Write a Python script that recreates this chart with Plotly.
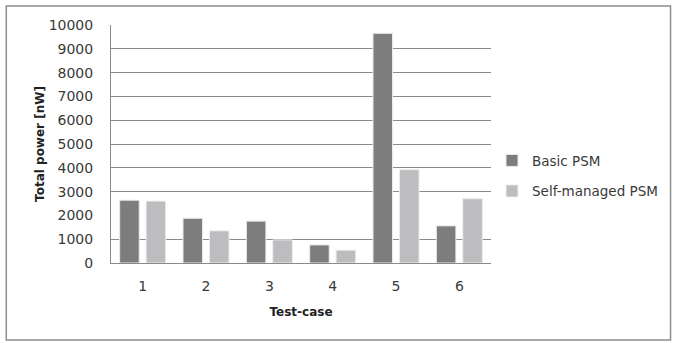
import plotly.graph_objects as go

# Test cases and measured total power for each power-saving mode
test_cases = ["1", "2", "3", "4", "5", "6"]
basic_psm = [2640, 1880, 1760, 760, 9650, 1560]
self_managed_psm = [2600, 1350, 970, 540, 3920, 2700]

y_ticks = [0, 1000, 2000, 3000, 4000, 5000, 6000, 7000, 8000, 9000, 10000]
y_tick_text = [str(v) for v in y_ticks]
grid_values = [1000, 3000, 4000, 5000, 6000, 7000, 8000, 9000]

FONT = "DejaVu Sans"
TEXT_COLOR = "#3a3a3a"
LINE_COLOR = "#8a8a8a"

fig = go.Figure()
fig.add_trace(go.Bar(
    x=test_cases, y=basic_psm, name="Basic PSM",
    marker=dict(color="#7d7d80", line=dict(color="#ececec", width=1)),
    legendgroup="a",
))
fig.add_trace(go.Bar(
    x=test_cases, y=self_managed_psm, name="Self-managed PSM",
    marker=dict(color="#bdbdc0", line=dict(color="#ececec", width=1)),
    legendgroup="b",
))

fig.update_layout(
    width=674, height=343,
    margin=dict(l=111, r=182, t=25, b=80),
    paper_bgcolor="white", plot_bgcolor="rgba(0,0,0,0)",
    barmode="group", bargap=0.165, bargroupgap=0.26,
    font=dict(family=FONT, color=TEXT_COLOR, size=13),
    legend=dict(
        x=1.0, xanchor="left", y=0.365, yanchor="middle",
        font=dict(family=FONT, size=13.5, color=TEXT_COLOR),
        itemwidth=30, tracegroupgap=10, traceorder="grouped",
        bgcolor="rgba(0,0,0,0)",
    ),
    xaxis=dict(
        type="category", showgrid=False, showline=True,
        linecolor=LINE_COLOR, linewidth=1, ticks="",
        tickfont=dict(family=FONT, size=14, color=TEXT_COLOR),
        ticklabelstandoff=10,
        title=dict(text="<b>Test-case</b>", standoff=14,
                   font=dict(family=FONT, size=12, color="#222222")),
    ),
    yaxis=dict(
        range=[0, 10000], tickvals=y_ticks, ticktext=y_tick_text,
        showgrid=False, zeroline=False, showline=True,
        linecolor=LINE_COLOR, linewidth=1, ticks="",
        tickfont=dict(family=FONT, size=14, color=TEXT_COLOR),
        ticklabelstandoff=14,
        title=dict(text="<b>Total power [nW]</b>", standoff=1,
                   font=dict(family=FONT, size=12, color="#222222")),
    ),
    yaxis2=dict(
        range=[0, 10000], overlaying="y", side="left",
        tickvals=grid_values, showticklabels=False,
        showgrid=True, gridcolor=LINE_COLOR, gridwidth=1,
        zeroline=False, showline=False, layer="below traces",
    ),
)

# Invisible trace so the grid-only axis is rendered
fig.add_trace(go.Scatter(x=test_cases, y=[None] * len(test_cases), yaxis="y2",
                         showlegend=False, hoverinfo="skip"))

# Outer frame around the whole chart
plot_w = 674 - 111 - 182
plot_h = 343 - 25 - 80
fig.add_shape(
    type="rect", xref="paper", yref="paper", layer="above",
    x0=(6 - 111) / plot_w, x1=(672 - 111) / plot_w,
    y0=(263 - 340) / plot_h, y1=(263 - 6) / plot_h,
    line=dict(color="#8c8c8c", width=1.5), fillcolor="rgba(0,0,0,0)",
)

fig.write_html("out.html")
